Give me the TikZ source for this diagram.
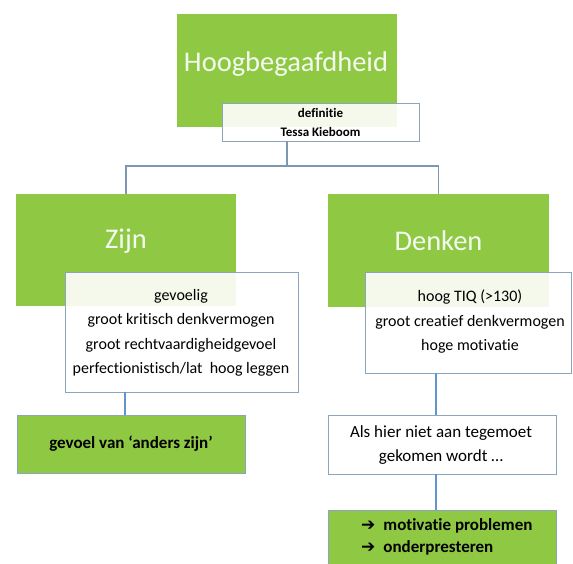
\documentclass[tikz,border=0pt]{standalone}
\usepackage{fontspec}
\setmainfont[Ligatures={NoCommon,NoRare}]{Carlito}
\newfontfamily\arrowfont{DejaVu Sans}
\definecolor{lgreen}{RGB}{143,201,68}
\definecolor{boxline}{RGB}{140,165,190}
\definecolor{thinline}{RGB}{125,150,178}
\definecolor{thickline}{RGB}{95,150,205}
\definecolor{headtext}{RGB}{245,250,240}
\begin{document}
\begin{tikzpicture}[x=1pt,y=-1pt,
  greenbox/.style={fill=lgreen, draw=none, inner sep=0pt, outer sep=0pt, anchor=north west},
  greenframed/.style={fill=lgreen, draw=boxline, line width=0.8pt, inner sep=0pt, outer sep=0pt, anchor=north west},
  whitebox/.style={fill=white, fill opacity=0.9, draw=boxline, draw opacity=1, line width=0.8pt, inner sep=0pt, outer sep=0pt, anchor=north west},
  headlabel/.style={text=headtext, font=\fontsize{28.5}{32}\selectfont, inner sep=0pt},
  listlabel/.style={align=center, font=\fontsize{16}{24.5}\selectfont, inner sep=0pt},
  thinconn/.style={draw=thinline, line width=1.3pt},
  thickconn/.style={draw=thickline, line width=2.6pt}
]
\useasboundingbox (0,0) rectangle (573,563);
% top
\node[greenbox, minimum width=220pt, minimum height=113pt] (top) at (177,14) {};
\node[headlabel] (toptxt) at (286,64) {Hoogbegaafdheid};
\node[whitebox, minimum width=197pt, minimum height=38pt] (def) at (222,103) {};
\node[align=center, font=\bfseries\fontsize{13}{19}\selectfont, inner sep=0pt] (deftxt) at (320.5,122.5) {definitie\\Tessa Kieboom};
% Zijn
\node[greenbox, minimum width=220pt, minimum height=112pt] (zijn) at (16,194) {};
\node[headlabel] (zijntxt) at (126,241) {Zijn};
\node[whitebox, minimum width=233pt, minimum height=120pt] (zw) at (65,272) {};
\node[listlabel] (zwtxt) at (181,333) {gevoelig\\groot kritisch denkvermogen\\groot rechtvaardigheidgevoel\\perfectionistisch/lat\ \ hoog leggen};
\node[greenframed, minimum width=228pt, minimum height=58pt] (gev) at (17,415) {};
\node[font=\bfseries\fontsize{17}{20}\selectfont, inner sep=0pt] (gevtxt) at (131,444) {gevoel van ‘anders zijn’};
% Denken
\node[greenbox, minimum width=221pt, minimum height=113pt] (denk) at (328,194) {};
\node[headlabel] (denktxt) at (438.5,241) {Denken};
\node[whitebox, minimum width=206pt, minimum height=101pt] (dw) at (365,272) {};
\node[listlabel] (dwtxt) at (470,322) {hoog TIQ (>130)\\groot creatief denkvermogen\\hoge motivatie};
\node[whitebox, fill opacity=1, minimum width=228pt, minimum height=59pt] (als) at (328,415) {};
\node[align=center, font=\fontsize{17}{24}\selectfont, inner sep=0pt] (alstxt) at (441,445) {Als hier niet aan tegemoet\\gekomen wordt …};
\node[greenframed, minimum width=228pt, minimum height=60pt] (res) at (328,510) {};
\node[align=left, font=\bfseries\fontsize{17}{22}\selectfont, inner sep=0pt, anchor=north west] (restxt) at (361,518) {{\arrowfont\fontsize{17}{22}\selectfont ➔}\hspace{8pt}motivatie problemen\\{\arrowfont\fontsize{17}{22}\selectfont ➔}\hspace{8pt}onderpresteren};
% connectors
\coordinate (j) at (287,166);
\coordinate (zl) at (125,0);
\coordinate (dl) at (436,0);
\draw[thinconn] (j |- def.south) -- (j);
\draw[thinconn] (zijn.north) |- (j) -| (denk.north);
\draw[thickconn] (zl |- zw.south) -- (zl |- gev.north);
\draw[thickconn] (dl |- dw.south) -- (dl |- als.north);
\draw[thickconn] (dl |- als.south) -- (dl |- res.north);
\end{tikzpicture}
\end{document}
